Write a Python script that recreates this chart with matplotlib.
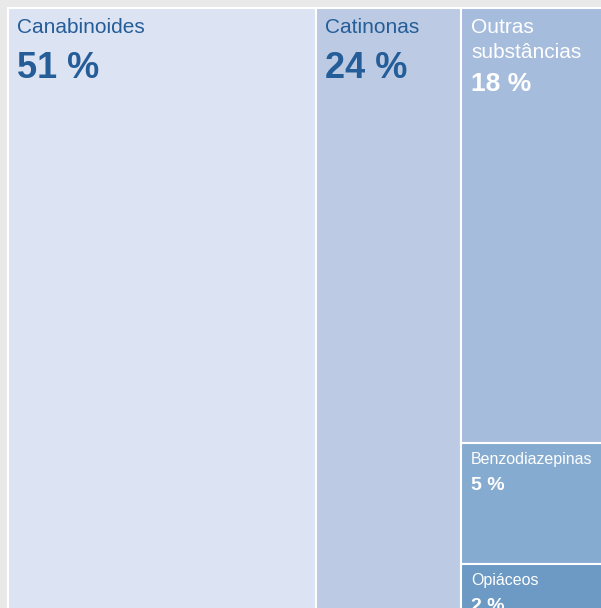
import matplotlib.pyplot as plt
from matplotlib.patches import Rectangle

plt.rcParams['font.family'] = ['Liberation Sans', 'DejaVu Sans']

# share of substances (%)
labels = ["Canabinoides", "Catinonas", "Outras\nsubstâncias", "Benzodiazepinas", "Opiáceos"]
values = [51, 24, 18, 5, 2]
colors = ["#dce3f2", "#bccbe3", "#a6bcdc", "#86abd0", "#6c9ac4"]
text_colors = ["#245d98", "#245d98", "white", "white", "white"]

W, H = 601, 608
fig = plt.figure(figsize=(W / 100, H / 100), dpi=100)
fig.patch.set_facecolor("#e9e9e9")
ax = fig.add_axes([0, 0, 1, 1])
ax.set_xlim(0, W)
ax.set_ylim(H, 0)
ax.axis("off")

# square treemap, slightly larger than the canvas (cropped at right/bottom)
x0, y0, side = 8, 8, 604
total = sum(values)

rects = []
x = x0
# first two groups as full-height columns
for v in values[:2]:
    w = side * v / total
    rects.append((x, y0, w, side))
    x += w
# the rest stacked in the last column
rest = sum(values[2:])
w = side * rest / total
y = y0
for v in values[2:]:
    h = side * v / rest
    rects.append((x, y, w, h))
    y += h

for i, (rx, ry, rw, rh) in enumerate(rects):
    ax.add_patch(Rectangle((rx, ry), rw, rh, facecolor=colors[i],
                           edgecolor="white", linewidth=1.5))
    tc = text_colors[i]
    pct = f"{values[i]} %"
    if i < 2:
        ax.text(rx + 9, ry + 25, labels[i], color=tc, fontsize=15, va="baseline")
        ax.text(rx + 9, ry + 70, pct, color=tc, fontsize=26, fontweight="bold", va="baseline")
    elif i == 2:
        ax.text(rx + 10, ry + 25, "Outras", color=tc, fontsize=15, va="baseline")
        ax.text(rx + 10, ry + 50, "substâncias", color=tc, fontsize=15, va="baseline")
        ax.text(rx + 10, ry + 83, pct, color=tc, fontsize=19, fontweight="bold", va="baseline")
    else:
        ax.text(rx + 10, ry + 21, labels[i], color=tc, fontsize=11.5, va="baseline")
        ax.text(rx + 10, ry + 47, pct, color=tc, fontsize=14, fontweight="bold", va="baseline")

fig.savefig("out.png", dpi=100, facecolor=fig.get_facecolor())
